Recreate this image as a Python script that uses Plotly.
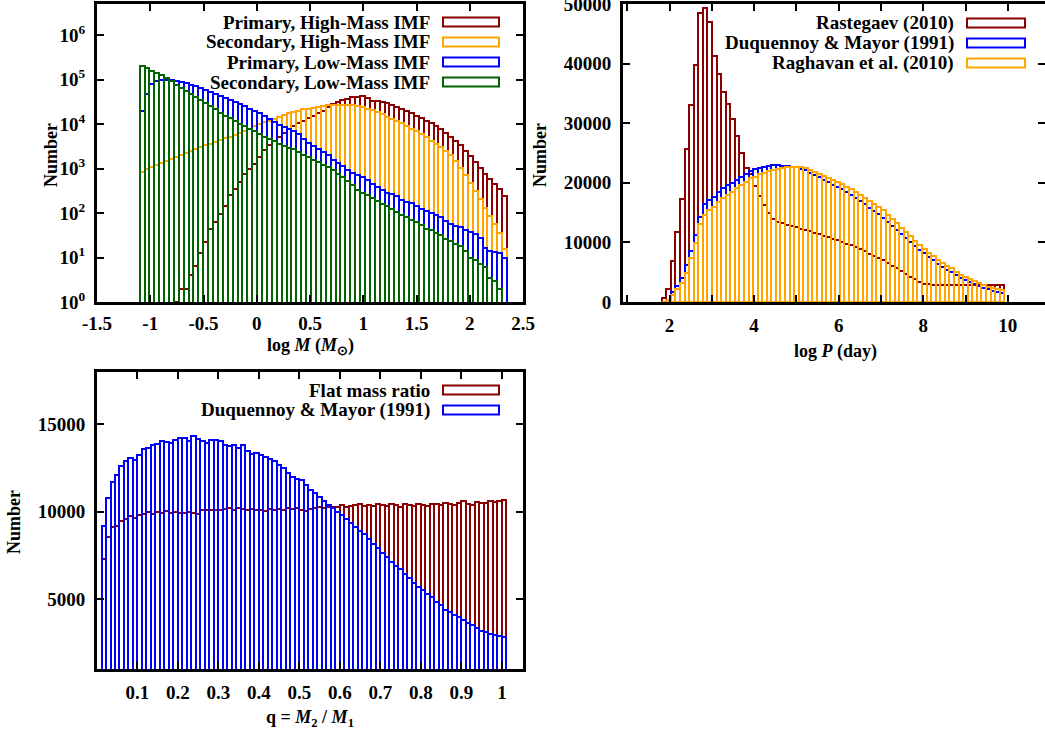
import plotly.graph_objects as go

W, H = 1045, 738
FONT = "Liberation Serif"

# ---------------- Panel 1: log M histograms (values are log10 of counts) ----------------
mass_bin_start = -1.077
mass_bin_width = 0.046
primary_high_log10 = [None, None, None, None, None, None, None,
    0.0, 0.3, 0.3, 0.6, 0.8, 1.1, 1.35, 1.65, 1.80, 1.98, 2.15, 2.40, 2.55, 2.70, 2.88, 3.00,
    3.10, 3.25, 3.42, 3.52, 3.62, 3.72, 3.80, 3.88, 3.95, 4.02, 4.08, 4.14, 4.19, 4.24, 4.30,
    4.38, 4.45, 4.50, 4.54, 4.57, 4.60, 4.62, 4.63, 4.58, 4.53, 4.52, 4.50, 4.47, 4.42, 4.38,
    4.34, 4.30, 4.25, 4.19, 4.14, 4.08, 4.02, 3.96, 3.89, 3.80, 3.72, 3.62, 3.52, 3.40, 3.28,
    3.15, 3.02, 2.88, 2.76, 2.65, 2.55, 2.38]
secondary_high_log10 = [2.92, 2.98, 3.03, 3.08, 3.13, 3.18, 3.22, 3.27, 3.31, 3.35,
    3.40, 3.44, 3.48, 3.52, 3.56, 3.60, 3.64, 3.68, 3.72, 3.76,
    3.80, 3.85, 3.90, 3.95, 4.00, 4.04, 4.08, 4.12, 4.16, 4.20,
    4.24, 4.27, 4.30, 4.33, 4.35, 4.37, 4.39, 4.41, 4.42, 4.43,
    4.44, 4.44, 4.43, 4.42, 4.41, 4.38, 4.35, 4.32, 4.27, 4.22,
    4.17, 4.12, 4.07, 4.02, 3.96, 3.90, 3.85, 3.78, 3.71, 3.63,
    3.56, 3.48, 3.40, 3.30, 3.18, 3.02, 2.85, 2.68, 2.50, 2.32,
    2.12, 1.93, 1.75, 1.56, 1.20]
primary_low_log10 = [4.30, 4.67, 4.90, 4.97, 5.00, 5.00, 4.99, 4.97, 4.95, 4.92,
    4.89, 4.85, 4.81, 4.77, 4.73, 4.68, 4.64, 4.59, 4.55, 4.50,
    4.45, 4.40, 4.35, 4.30, 4.24, 4.18, 4.12, 4.05, 3.99, 3.93,
    3.90, 3.85, 3.77, 3.67, 3.58, 3.50, 3.44, 3.38, 3.30, 3.20,
    3.12, 3.05, 2.97, 2.90, 2.85, 2.80, 2.75, 2.65, 2.58, 2.52,
    2.46, 2.42, 2.38, 2.30, 2.25, 2.22, 2.15, 2.10, 2.05, 2.00,
    1.95, 1.90, 1.82, 1.76, 1.72, 1.68, 1.62, 1.58, 1.52, 1.45,
    1.22, 1.15, 1.12, 1.10, 1.00]
secondary_low_log10 = [5.31, 5.25, 5.20, 5.15, 5.10, 5.03, 4.96, 4.89, 4.82, 4.75,
    4.68, 4.61, 4.54, 4.47, 4.40, 4.33, 4.26, 4.19, 4.13, 4.07,
    4.01, 3.95, 3.89, 3.84, 3.78, 3.72, 3.67, 3.62, 3.56, 3.51,
    3.47, 3.43, 3.38, 3.31, 3.25, 3.20, 3.15, 3.09, 3.04, 2.97,
    2.88, 2.80, 2.72, 2.62, 2.52, 2.46, 2.40, 2.34, 2.28, 2.20,
    2.15, 2.10, 2.03, 1.95, 1.90, 1.85, 1.80, 1.74, 1.65, 1.62,
    1.55, 1.50, 1.42, 1.38, 1.30, 1.26, 1.15, 1.00, 0.95, 0.85,
    0.78, 0.55, 0.48, 0.30, None]
mass_legend = ["Primary, High-Mass IMF", "Secondary, High-Mass IMF",
               "Primary, Low-Mass IMF", "Secondary, Low-Mass IMF"]
mass_xticks = [-1.5, -1, -0.5, 0, 0.5, 1, 1.5, 2, 2.5]
mass_xticktext = ["-1.5", "-1", "-0.5", "0", "0.5", "1", "1.5", "2", "2.5"]
mass_yexponents = [0, 1, 2, 3, 4, 5, 6]

# ---------------- Panel 2: log P histograms ----------------
period_bin_start = 1.87
period_bin_width = 0.108
rastegaev_2010 = [700, 2200, 6900, 11700, 17300, 25600, 33100, 39700, 48500, 49400,
    46900, 41200, 38200, 35300, 33300, 30700, 27900, 25000, 22500, 21500,
    19500, 17800, 16300, 15000, 14000, 13400, 13200, 13000, 12800, 12600,
    12300, 12100, 11900, 11600, 11400, 11100, 10900, 10600, 10400, 10100,
    9800, 9500, 9200, 8900, 8500, 8100, 7800, 7400, 7000, 6500,
    6100, 5700, 5200, 4700, 4200, 3800, 3400, 3100, 3000, 2900,
    2900, 2850, 2900, 2850, 2900, 2900, 2850, 2900, 2900, 2850,
    2900, 2900, 2850, 2900, 2900]
duquennoy_mayor_logp = [0, 400, 1700, 2700, 4000, 6200, 8600, 11300, 14300, 16500,
    17100, 17700, 18500, 19200, 19700, 20000, 20500, 21000, 21500, 22000,
    22300, 22500, 22700, 22900, 23000, 23000, 22900, 22800, 22700, 22600,
    22400, 22100, 21700, 21300, 20900, 20500, 20100, 19700, 19300, 18900,
    18400, 17900, 17400, 16900, 16400, 15800, 15200, 14700, 14100, 13500,
    12800, 12100, 11400, 10700, 10100, 9400, 8800, 8200, 7600, 7000,
    6400, 5900, 5400, 5000, 4500, 4100, 3700, 3300, 3000, 2700,
    2400, 2100, 1900, 1700, 1500]
raghavan_2010 = [0, 300, 1200, 2200, 3200, 4900, 7400, 9900, 13100, 14600,
    15500, 16000, 16800, 17500, 18000, 18500, 19200, 19700, 20200, 20800,
    21000, 21500, 21700, 21900, 22100, 22300, 22500, 22600, 22700, 22700,
    22600, 22500, 22100, 21800, 21500, 21200, 20800, 20500, 20100, 19800,
    19300, 18900, 18400, 17900, 17400, 16900, 16400, 15900, 15400, 14600,
    13900, 13200, 12500, 11800, 11100, 10300, 9600, 8900, 8300, 7700,
    7100, 6600, 6100, 5700, 5100, 4600, 4200, 3800, 3500, 3200,
    2900, 2600, 2400, 2200, 2000]
period_legend = ["Rastegaev (2010)", "Duquennoy & Mayor (1991)", "Raghavan et al. (2010)"]
period_xticks = [2, 4, 6, 8, 10]
period_yticks = [0, 10000, 20000, 30000, 40000, 50000]

# ---------------- Panel 3: mass ratio histograms ----------------
q_bin_start = 0.0167
q_bin_width = 0.0111
flat_mass_ratio = [7300, 8550, 9100, 9200, 9500, 9600, 9750, 9650, 9800, 9900,
    10000, 9900, 10000, 9950, 10050, 9950, 10000, 9950, 9950, 10000,
    9950, 9900, 10080, 10100, 10080, 10100, 10100, 10150, 10200, 10120,
    10200, 10150, 10100, 10150, 10080, 10100, 10050, 10150, 10100, 10150,
    10100, 10200, 10150, 10200, 10100, 10050, 10150, 10200, 10250, 10200,
    10300, 10250, 10300, 10400, 10300, 10350, 10400, 10420, 10350, 10400,
    10350, 10420, 10400, 10350, 10450, 10380, 10300, 10420, 10400, 10350,
    10450, 10400, 10350, 10430, 10450, 10400, 10500, 10450, 10400, 10500,
    10600, 10450, 10400, 10550, 10500, 10480, 10600, 10550, 10600, 10650]
duquennoy_mayor_q = [9200, 10800, 11700, 12100, 12600, 12900, 13050, 12950, 13250, 13600,
    13650, 13800, 13900, 14050, 14000, 13950, 14100, 14250, 14200, 14050,
    14350, 14150, 14050, 13950, 14100, 14080, 14050, 13800, 13750, 13800,
    13650, 13850, 13450, 13300, 13380, 13250, 13150, 13000, 12900, 12700,
    12500, 12200, 12000, 11850, 11800, 11550, 11250, 11050, 10850, 10600,
    10400, 10200, 10000, 9800, 9600, 9350, 9150, 8900, 8700, 8450,
    8150, 7900, 7650, 7400, 7150, 6900, 6700, 6450, 6200, 5950,
    5700, 5500, 5300, 5100, 4850, 4650, 4400, 4250, 4100, 3950,
    3800, 3650, 3500, 3350, 3200, 3100, 3000, 2950, 2880, 2840]
q_legend = ["Flat mass ratio", "Duquennoy & Mayor (1991)"]
q_xticks = [0.1, 0.2, 0.3, 0.4, 0.5, 0.6, 0.7, 0.8, 0.9, 1.0]
q_xticktext = ["0.1", "0.2", "0.3", "0.4", "0.5", "0.6", "0.7", "0.8", "0.9", "1"]
q_yticks = [5000, 10000, 15000]

# ---------------- styling ----------------
DARKRED = "#8B0000"
ORANGE = "#FFA500"
BLUE = "#0000FF"
GREEN = "#006400"


def px(x):
    return x / W


def py(y):
    return 1 - y / H


def centers(start, width, n):
    return [start + width * i for i in range(n)]


def bar(xc, vals, width, color, xa, ya):
    return go.Bar(x=xc, y=vals, width=width, xaxis=xa, yaxis=ya,
                  marker=dict(color="rgba(255,255,255,0)", line=dict(color=color, width=2)),
                  showlegend=False, hoverinfo="skip")


fig = go.Figure()

# panel 1
mx = centers(mass_bin_start, mass_bin_width, len(primary_high_log10))
for series, col in [(primary_high_log10, DARKRED), (secondary_high_log10, ORANGE),
                    (primary_low_log10, BLUE), (secondary_low_log10, GREEN)]:
    vals = [None if v is None else 10 ** v for v in series]
    fig.add_trace(bar(mx, vals, mass_bin_width, col, "x", "y"))

# panel 2
pxc = centers(period_bin_start, period_bin_width, len(rastegaev_2010))
for series, col in [(rastegaev_2010, DARKRED), (duquennoy_mayor_logp, BLUE), (raghavan_2010, ORANGE)]:
    fig.add_trace(bar(pxc, series, period_bin_width, col, "x2", "y2"))

# panel 3
qx = centers(q_bin_start, q_bin_width, len(flat_mass_ratio))
for series, col in [(flat_mass_ratio, DARKRED), (duquennoy_mayor_q, BLUE)]:
    fig.add_trace(bar(qx, series, q_bin_width, col, "x3", "y3"))

tickfont = dict(family=FONT, size=19, color="black", weight="bold")
common = dict(showline=True, linecolor="black", linewidth=3, ticks="inside", ticklen=7,
              tickwidth=2, tickcolor="black", showgrid=False, zeroline=False,
              tickfont=tickfont, tickmode="array", automargin=False,
              ticklabeloverflow="allow")

top_dom = [py(302), py(4)]
bot_dom = [py(669), py(372)]
left_dom = [px(97), px(523)]
right_dom = [px(623), 1.0]

fig.update_layout(
    template="none",
    width=W, height=H, margin=dict(l=0, r=0, t=0, b=0, pad=0),
    paper_bgcolor="white", plot_bgcolor="white", barmode="overlay", bargap=0,
    font=dict(family=FONT, color="black"),
    xaxis=dict(common, domain=left_dom, anchor="y", range=[-1.5, 2.5], mirror="ticks",
               tickvals=mass_xticks, ticktext=mass_xticktext, ticklabelstandoff=2),
    yaxis=dict(common, domain=top_dom, anchor="x", type="log", range=[0, 6.7], mirror="ticks",
               tickvals=[10 ** e for e in mass_yexponents],
               ticktext=["10<sup>%d</sup>" % e for e in mass_yexponents], ticklabelstandoff=5),
    xaxis2=dict(common, domain=right_dom, anchor="y2", range=[0.9, 10.88], mirror="ticks",
                tickvals=period_xticks, ticktext=[str(v) for v in period_xticks],
                minor=dict(dtick=1, tick0=0, ticks="inside", ticklen=7, tickwidth=2, tickcolor="black"),
                ticklabelstandoff=4),
    yaxis2=dict(common, domain=top_dom, anchor="x2", range=[0, 50000], mirror=False,
                tickvals=period_yticks, ticktext=[str(v) for v in period_yticks], ticklabelstandoff=5),
    yaxis4=dict(common, overlaying="y2", side="right", anchor="x2", range=[0, 50000],
                showline=False, showticklabels=False, tickvals=period_yticks),
    xaxis3=dict(common, domain=left_dom, anchor="y3", range=[0, 1.052], mirror="ticks",
                tickvals=q_xticks, ticktext=q_xticktext, ticklabelstandoff=4),
    yaxis3=dict(common, domain=bot_dom, anchor="x3", range=[1000, 18000], mirror="ticks",
                tickvals=q_yticks, ticktext=[str(v) for v in q_yticks], ticklabelstandoff=5),
)

# empty trace so the right-side tick axis is rendered
fig.add_trace(go.Scatter(x=[None], y=[None], xaxis="x2", yaxis="y4", showlegend=False))

annots = []
shapes = []
lfont = dict(family=FONT, size=19, color="black", weight="bold")


def legend(labels, colors, text_right, sw_x0, sw_x1, rows):
    for lab, col, yy in zip(labels, colors, rows):
        annots.append(dict(text=lab, x=px(text_right), y=py(yy), xref="paper", yref="paper",
                           xanchor="right", yanchor="middle", showarrow=False, font=lfont))
        shapes.append(dict(type="rect", xref="paper", yref="paper", x0=px(sw_x0), x1=px(sw_x1),
                           y0=py(yy + 4.5), y1=py(yy - 4.5), line=dict(color=col, width=2),
                           fillcolor="rgba(255,255,255,0)"))


legend(mass_legend, [DARKRED, ORANGE, BLUE, GREEN], 432, 443, 499, [22, 42, 62, 82])
legend(period_legend, [DARKRED, BLUE, ORANGE], 956, 967, 1025, [23, 43, 63])
legend(q_legend, [DARKRED, BLUE], 432, 443, 499, [390, 410])

tfont = dict(family=FONT, size=18, color="black", weight="bold")


def title(text, x, y, angle=0):
    annots.append(dict(text=text, x=px(x), y=py(y), xref="paper", yref="paper",
                       xanchor="center", yanchor="middle", showarrow=False, font=tfont,
                       textangle=angle))


title("Number", 51, 155, -90)
title("log <i>M</i> (<i>M</i><sub>⊙</sub>)", 310, 346)
title("Number", 540, 155, -90)
title("log <i>P</i> (day)", 835, 352)
title("Number", 14, 522, -90)
title("q = <i>M</i><sub>2</sub> / <i>M</i><sub>1</sub>", 310, 718)

fig.update_layout(annotations=annots, shapes=shapes)
fig.write_html("out.html", config={"displayModeBar": False},
               post_script="document.body.style.margin='0';document.body.style.overflow='hidden';")
